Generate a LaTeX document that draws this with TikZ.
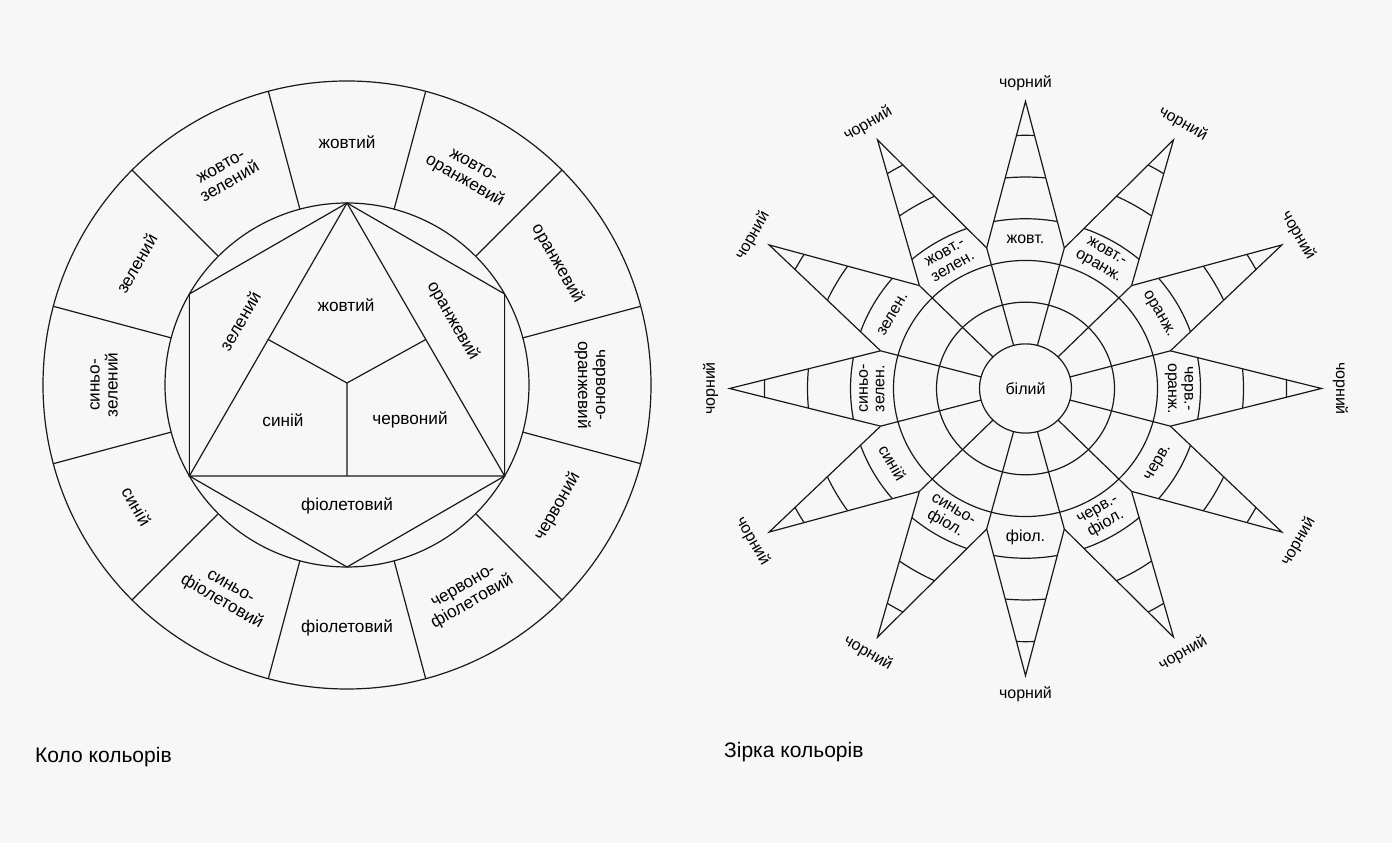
\documentclass[tikz,border=0pt]{standalone}
\usepackage{fontspec}
\setmainfont{Liberation Sans}
\usetikzlibrary{calc}
\definecolor{paper}{RGB}{247,247,247}
% tangential text: upper half reads left to right, lower half turned to the centre
\newcommand{\tanrot}[1]{\pgfmathsetmacro{\rot}{#1<=180 ? #1-90 : #1+90}}
\newcommand{\starpoint}[1]{(#1-15:150) -- (#1:296) -- (#1+15:150)}

\begin{document}
\begin{tikzpicture}[x=1pt,y=1pt,
    ln/.style={line width=1.2pt,black!90},
    lbl/.style={font=\fontsize{17.2}{18}\selectfont,align=center,inner sep=0pt},
    slbl/.style={font=\fontsize{16}{16.5}\selectfont,align=center,inner sep=0pt}]
\fill[paper] (0,0) rectangle (1392,843);
\useasboundingbox (0,0) rectangle (1392,843);
% colour wheel
\begin{scope}[shift={(347,458)}]
    \draw[ln] (0,0) circle (304) (0,0) circle (182);
    \foreach \a in {15,45,...,345}{\draw[ln] (\a:182) -- (\a:304);}
    \foreach \i/\a in {1/90,2/150,3/210,4/270,5/330,6/30}{\coordinate (H\i) at (\a:182);}
    \coordinate (M) at (0,2);
    \draw[ln] (H1)--(H2)--(H3)--(H4)--(H5)--(H6)--cycle;
    \draw[ln] (H1)--(H3)--(H5)--cycle;
    \draw[ln] (M)--($(H1)!.5!(H3)$) (M)--($(H1)!.5!(H5)$) (M)--($(H3)!.5!(H5)$);
    \foreach \a/\t in {90/жовтий,120/{жовто-\\зелений},150/зелений,180/{синьо-\\зелений},
        210/синій,240/{синьо-\\фіолетовий},270/фіолетовий,300/{червоно-\\фіолетовий},
        330/червоний,0/{червоно-\\оранжевий},30/оранжевий,60/{жовто-\\оранжевий}}{
        \tanrot{\a}
        \node[lbl,rotate=\rot] (w\a) at (\a:243) {\t};}
    \node[lbl] (iy) at (-1,80) {жовтий};
    \node[lbl] (ib) at (-64,-35) {синій};
    \node[lbl] (ir) at (63,-35) {червоний};
    \node[lbl] (iv) at (0,-121) {фіолетовий};
    \node[lbl,rotate=60] (ig) at (-107,64) {зелений};
    \node[lbl,rotate=-60] (io) at (106,64) {оранжевий};
\end{scope}
% colour star
\begin{scope}[shift={(1025.5,454.5)},yscale=0.97]
    \foreach \r in {46,89,132}{\draw[ln] (0,0) circle (\r);}
    \foreach \a in {15,45,...,345}{\draw[ln] (\a:46) -- (\a:150);}
    \foreach \a in {0,30,...,330}{
        \draw[ln,line join=miter] \starpoint{\a};
        \begin{scope}
            \clip \starpoint{\a} -- cycle;
            \foreach \r in {175,218,261}{\draw[ln] (0,0) circle (\r);}
        \end{scope}}
    \node[slbl] (white) at (0,0) {білий};
    \foreach \a/\t in {90/жовт.,120/{жовт.-\\зелен.},150/зелен.,180/{синьо-\\зелен.},
        210/синій,240/{синьо-\\фіол.},270/фіол.,300/{черв.-\\фіол.},
        330/черв.,0/{черв.-\\оранж.},30/оранж.,60/{жовт.-\\оранж.}}{
        \tanrot{\a}
        \node[slbl,rotate=\rot] (s\a) at (\a:153.5) {\t};
        \node[slbl,rotate=\rot] (k\a) at (\a:315) {чорний};}
\end{scope}
\node[anchor=west,font=\fontsize{21}{23}\selectfont,inner sep=0pt] (cap1) at (35,86) {Коло кольорів};
\node[anchor=west,font=\fontsize{21}{23}\selectfont,inner sep=0pt] (cap2) at (724,91) {Зірка кольорів};
\end{tikzpicture}
\end{document}
